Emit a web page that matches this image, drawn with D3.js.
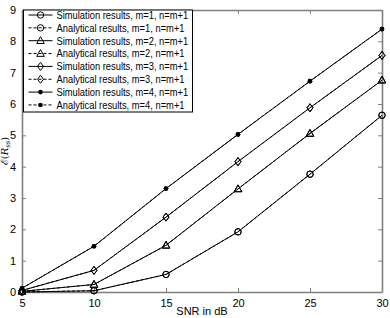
<!DOCTYPE html>
<html>
<head>
<meta charset="utf-8">
<script src="https://cdn.jsdelivr.net/npm/d3@7"></script>
<style>
  body { margin: 0; background: #fff; }
  text { font-family: "Liberation Sans", Arial, sans-serif; }
</style>
</head>
<body>
<div id="svg-area"></div>
<script>
// Data
var snr = [5, 10, 15, 20, 25, 30];
var simM1 = [0.00, 0.04, 0.56, 1.92, 3.76, 5.64];
var anaM1 = [0.00, 0.04, 0.56, 1.92, 3.76, 5.64];
var simM2 = [0.02, 0.24, 1.49, 3.29, 5.06, 6.76];
var anaM2 = [0.02, 0.24, 1.49, 3.29, 5.06, 6.76];
var simM3 = [0.05, 0.69, 2.39, 4.16, 5.88, 7.55];
var anaM3 = [0.05, 0.69, 2.39, 4.16, 5.88, 7.55];
var simM4 = [0.12, 1.46, 3.30, 5.03, 6.73, 8.39];
var anaM4 = [0.12, 1.46, 3.30, 5.03, 6.73, 8.39];
var xTicks = [5, 10, 15, 20, 25, 30];
var yTicks = [0, 1, 2, 3, 4, 5, 6, 7, 8, 9];

var series = [
  { name: "Simulation results, m=1, n=m+1", values: simM1, marker: "circle", dash: null },
  { name: "Analytical results, m=1, n=m+1", values: anaM1, marker: "circle", dash: "3,2" },
  { name: "Simulation results, m=2, n=m+1", values: simM2, marker: "triangle", dash: null },
  { name: "Analytical results, m=2, n=m+1", values: anaM2, marker: "triangle", dash: "3,2" },
  { name: "Simulation results, m=3, n=m+1", values: simM3, marker: "diamond", dash: null },
  { name: "Analytical results, m=3, n=m+1", values: anaM3, marker: "diamond", dash: "3,2" },
  { name: "Simulation results, m=4, n=m+1", values: simM4, marker: "dot", dash: null },
  { name: "Analytical results, m=4, n=m+1", values: anaM4, marker: "dot", dash: "3,2" }
];

var svgWidth = 390;
var svgHeight = 318;
var margin = { top: 10, right: 8, bottom: 26, left: 22 };
var chartWidth = svgWidth - margin.left - margin.right;
var chartHeight = svgHeight - margin.top - margin.bottom;

var svg = d3.select("#svg-area")
  .append("svg")
  .attr("width", svgWidth)
  .attr("height", svgHeight);

var chartGroup = svg.append("g")
  .attr("transform", `translate(${margin.left}, ${margin.top})`);

var x = d3.scaleLinear().domain([5, 30]).range([0, chartWidth]);
var y = d3.scaleLinear().domain([0, 9]).range([chartHeight, 0]);

var axisColor = "#7f7f7f";

// axes with inward ticks, box style
function styleAxis(g) {
  g.select(".domain").attr("stroke", axisColor).attr("stroke-width", 1.6);
  g.selectAll(".tick line").attr("stroke", axisColor);
  g.selectAll(".tick text").attr("fill", "#000").style("font-size", "11px");
}

chartGroup.append("g")
  .attr("transform", `translate(0, ${chartHeight})`)
  .call(d3.axisBottom(x).tickValues(xTicks).tickSizeInner(-4).tickSizeOuter(0).tickPadding(7))
  .call(styleAxis);

chartGroup.append("g")
  .call(d3.axisLeft(y).tickValues(yTicks).tickSizeInner(-4).tickSizeOuter(0).tickPadding(6))
  .call(styleAxis);

chartGroup.append("g")
  .call(d3.axisTop(x).tickValues(xTicks).tickSizeInner(-4).tickSizeOuter(0).tickFormat(""))
  .call(styleAxis);

chartGroup.append("g")
  .attr("transform", `translate(${chartWidth}, 0)`)
  .call(d3.axisRight(y).tickValues(yTicks).tickSizeInner(-4).tickSizeOuter(0).tickFormat(""))
  .call(styleAxis);

// axis labels
svg.append("text")
  .attr("x", margin.left + chartWidth / 2)
  .attr("y", svgHeight - 3)
  .attr("text-anchor", "middle")
  .style("font-size", "11px")
  .text("SNR in dB");

var yLabel = svg.append("text")
  .attr("transform", `translate(8, ${margin.top + chartHeight / 2}) rotate(-90)`)
  .attr("text-anchor", "middle")
  .style("font-size", "10px")
  .style("font-family", "'DejaVu Serif', serif");
yLabel.append("tspan").text("\u2130(");
yLabel.append("tspan").style("font-style", "italic").text("R");
yLabel.append("tspan").attr("dy", 2).style("font-size", "7px").style("font-style", "italic").text("ss");
yLabel.append("tspan").attr("dy", -2).text(")");

// markers
function drawMarker(g, type, cx, cy) {
  if (type === "circle") {
    g.append("circle").attr("cx", cx).attr("cy", cy).attr("r", 3.2)
      .attr("fill", "none").attr("stroke", "#000").attr("stroke-width", 1);
  } else if (type === "triangle") {
    g.append("path")
      .attr("d", `M${cx},${cy - 4}L${cx + 3.8},${cy + 2.8}L${cx - 3.8},${cy + 2.8}Z`)
      .attr("fill", "none").attr("stroke", "#000").attr("stroke-width", 1);
  } else if (type === "diamond") {
    g.append("path")
      .attr("d", `M${cx},${cy - 4}L${cx + 3},${cy}L${cx},${cy + 4}L${cx - 3},${cy}Z`)
      .attr("fill", "none").attr("stroke", "#000").attr("stroke-width", 1);
  } else {
    g.append("circle").attr("cx", cx).attr("cy", cy).attr("r", 2.3)
      .attr("fill", "#000");
  }
}

var line = d3.line()
  .x((d, i) => x(snr[i]))
  .y(d => y(d));

series.forEach(function(s) {
  chartGroup.append("path")
    .datum(s.values)
    .attr("d", line)
    .attr("fill", "none")
    .attr("stroke", "#000")
    .attr("stroke-width", 1)
    .attr("stroke-dasharray", s.dash);
  s.values.forEach(function(v, i) {
    drawMarker(chartGroup, s.marker, x(snr[i]), y(v));
  });
});

// legend
var legend = svg.append("g").attr("transform", "translate(23.5, 10)");
legend.append("rect")
  .attr("width", 169).attr("height", 102)
  .attr("fill", "#fff").attr("stroke", "#000").attr("stroke-width", 1);

series.forEach(function(s, i) {
  var ly = 5 + i * 12.85;
  var row = legend.append("g");
  row.append("line")
    .attr("x1", 5).attr("x2", 29).attr("y1", ly).attr("y2", ly)
    .attr("stroke", "#000").attr("stroke-width", 1)
    .attr("stroke-dasharray", s.dash);
  drawMarker(row, s.marker, 17, ly);
  var t = row.append("text")
    .attr("x", 33).attr("y", ly + 3.8)
    .style("font-size", "10.5px")
    .text(s.name);
  // squeeze to the narrower width of the original font
  var w = t.node().getComputedTextLength();
  t.attr("textLength", w * 0.89).attr("lengthAdjust", "spacingAndGlyphs");
});
</script>
</body>
</html>
